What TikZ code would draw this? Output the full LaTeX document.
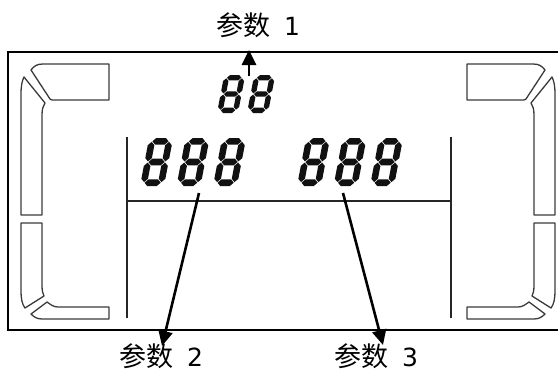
\documentclass[tikz,border=0pt]{standalone}
\usepackage{fontspec}
\setmainfont{DejaVu Sans}
\newfontfamily\cjk{Noto Sans CJK SC}
\usetikzlibrary{arrows.meta}
\definecolor{segcol}{HTML}{111111}
\definecolor{brk}{HTML}{3a3a3a}
\tikzset{
  frame/.style={line width=2.4pt, black},
  inner/.style={line width=1.4pt, black!85},
  bracket/.style={line width=1.3pt, brk, line join=round},
  ptr/.style={line width=2.6pt, -{Triangle[length=15pt,width=14pt]}},
  lbl/.style={inner sep=0pt, anchor=base west},
}
\newcommand{\lab}[1]{\fontsize{27}{32}\selectfont{\cjk 参数}\hspace{14pt}\fontsize{25}{30}\selectfont #1}
\newcommand{\sevenseg}[5]{%
\begin{scope}[shift={(#1,#2)}, xslant=0.19, x=1pt, y=1pt]
\pgfmathsetmacro\sw{#3}\pgfmathsetmacro\sh{#4}\pgfmathsetmacro\st{#5}
\pgfmathsetmacro\sg{0.6}
\pgfmathsetmacro\sL{\st/2}\pgfmathsetmacro\sR{\sw-\st/2}
\pgfmathsetmacro\sB{\st/2}\pgfmathsetmacro\sM{\sh/2}\pgfmathsetmacro\sT{\sh-\st/2}
\pgfmathsetmacro\ht{\st/2}
\foreach \yy in {\sB,\sM,\sT}{
  \fill[segcol] (\sL+\sg,\yy) -- (\sL+\sg+\ht,\yy+\ht) -- (\sR-\sg-\ht,\yy+\ht) -- (\sR-\sg,\yy) -- (\sR-\sg-\ht,\yy-\ht) -- (\sL+\sg+\ht,\yy-\ht) -- cycle;}
\foreach \xx in {\sL,\sR}{
  \foreach \ya/\yb in {\sB/\sM,\sM/\sT}{
  \fill[segcol] (\xx,\ya+\sg) -- (\xx+\ht,\ya+\sg+\ht) -- (\xx+\ht,\yb-\sg-\ht) -- (\xx,\yb-\sg) -- (\xx-\ht,\yb-\sg-\ht) -- (\xx-\ht,\ya+\sg+\ht) -- cycle;}}
\end{scope}}
\newcommand{\bracketside}{%
  \draw[bracket] (31,70) .. controls (34,66) and (37,64) .. (43,64) -- (109,64) -- (109,100) -- (54,100) .. controls (52,100) and (51,100) .. (50,99) -- cycle;
  \draw[bracket] (21,215) -- (21,94) .. controls (21,86) and (22,81) .. (24,77) -- (45,103) .. controls (43,106) and (42,109) .. (42,115) -- (42,215) -- cycle;
  \draw[bracket] (21,223) -- (42,223) -- (42,286) .. controls (42,291) and (43,294) .. (44,296) -- (25,308) .. controls (22,304) and (21,299) .. (21,290) -- cycle;
  \draw[bracket] (109,307) -- (58,307) .. controls (54,307) and (51,305) .. (47,302) -- (31,314) .. controls (34,317) and (37,319) .. (42,319) -- (109,319) -- cycle;
}
\begin{document}
\begin{tikzpicture}[x=1pt,y=-1pt]
\useasboundingbox (0,0) rectangle (558,372);
\draw[frame] (8,52) rectangle (568,330);
\draw[inner] (127,137) -- (127,318);
\draw[inner] (451,137) -- (451,318);
\draw[inner] (127,201) -- (451,201);
\bracketside
\begin{scope}[xshift=576pt, xscale=-1]
\bracketside
\end{scope}
\sevenseg{217}{113}{21}{38}{5.4}
\sevenseg{247}{113}{21}{38}{5.4}
\foreach \dx in {140,176.5,213,297,333.5,370}{\sevenseg{\dx}{186}{24}{48}{6.6}}
\node[lbl] (p1) at (216,35) {\lab{1}};
\node[lbl] (p2) at (119,366) {\lab{2}};
\node[lbl] (p3) at (334,366) {\lab{3}};
\coordinate (s1) at (249,76);
\coordinate (e1) at (249,50);
\coordinate (s2) at (199,193);
\coordinate (e2) at (162,346);
\coordinate (s3) at (343,193);
\coordinate (e3) at (383,345);
\draw[ptr] (s1) -- (e1);
\draw[ptr] (s2) -- (e2);
\draw[ptr] (s3) -- (e3);
\end{tikzpicture}
\end{document}
